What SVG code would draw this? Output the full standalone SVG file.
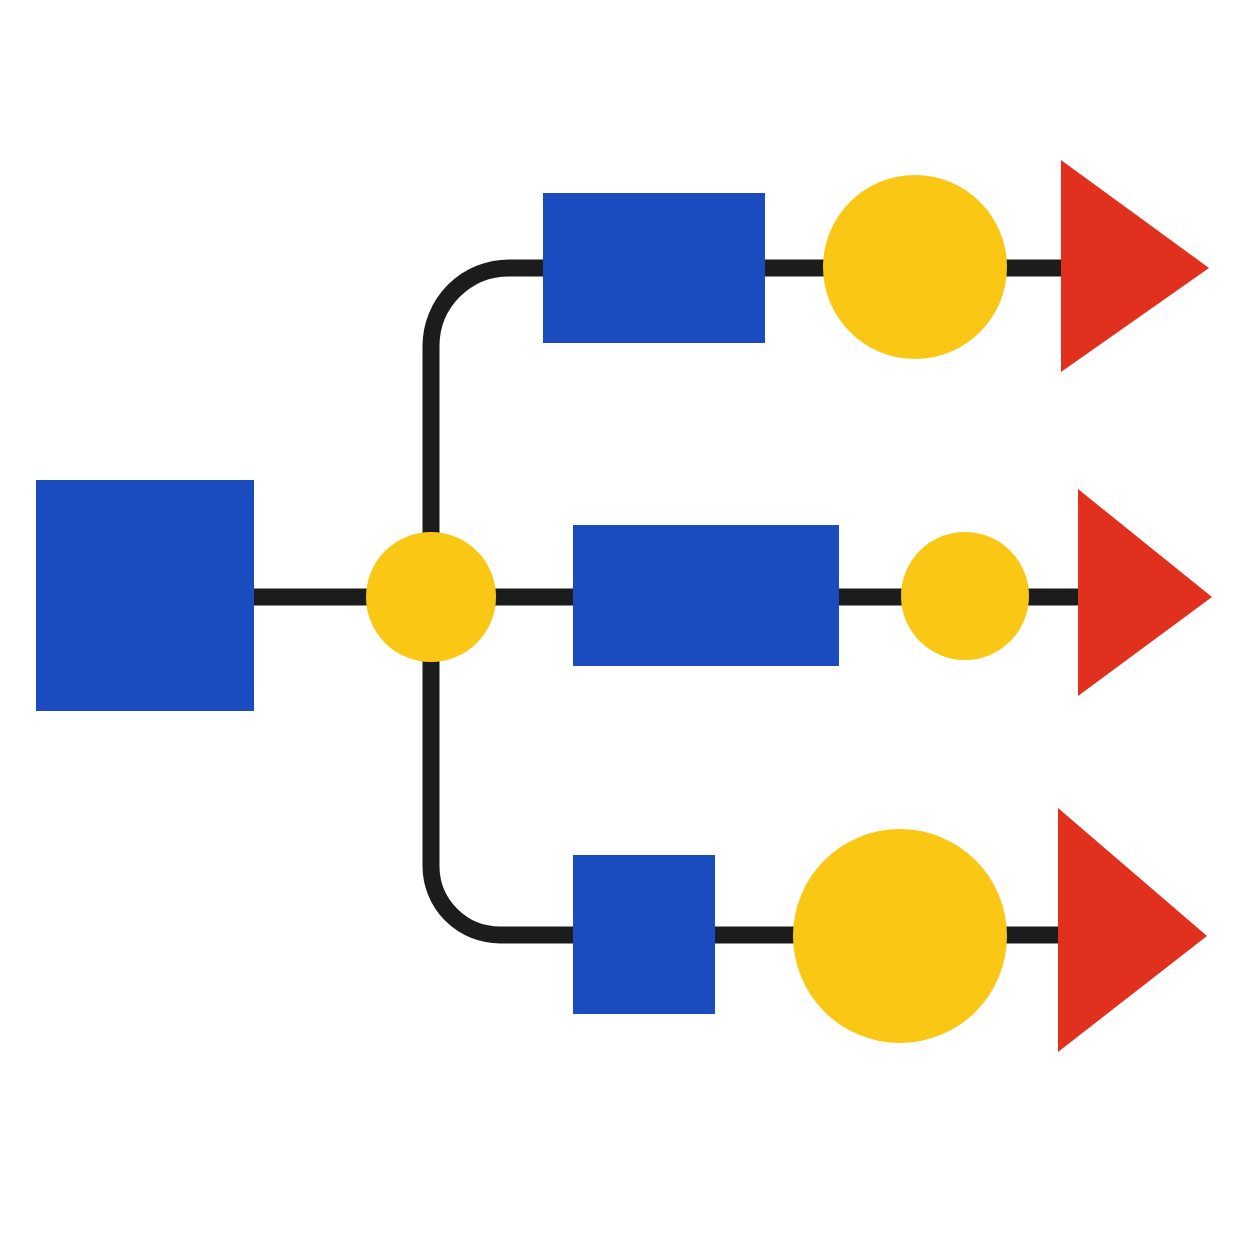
<svg xmlns="http://www.w3.org/2000/svg" width="1254" height="1254" viewBox="0 0 1254 1254">
<style>
.blue{fill:#1a4cc0}
.yellow{fill:#fac714}
.red{fill:#e2301f}
.wire{fill:none;stroke:#1c1c1c;stroke-width:17;stroke-linecap:butt}
</style>
<rect width="1254" height="1254" fill="#ffffff"/>
<g id="connectors">
<path class="wire" d="M254 597 H573"/>
<path class="wire" d="M431 597 V346 A78 78 0 0 1 509 268 H1062"/>
<path class="wire" d="M431 597 V866 A69 69 0 0 0 500 935 H1059"/>
<path class="wire" d="M839 597 H1079"/>
</g>
<g id="source"><rect class="blue" x="36" y="480" width="218" height="231"/></g>
<g id="hub"><circle class="yellow" cx="431" cy="597" r="65"/></g>
<g id="top-box"><rect class="blue" x="543" y="193" width="222" height="150"/></g>
<g id="top-circle"><circle class="yellow" cx="915" cy="267" r="92"/></g>
<g id="top-arrow"><polygon class="red" points="1061,160 1061,372 1209,268"/></g>
<g id="mid-box"><rect class="blue" x="573" y="525" width="266" height="141"/></g>
<g id="mid-circle"><circle class="yellow" cx="965" cy="596" r="64"/></g>
<g id="mid-arrow"><polygon class="red" points="1078,489 1078,696 1212,597"/></g>
<g id="bottom-box"><rect class="blue" x="573" y="855" width="142" height="159"/></g>
<g id="bottom-circle"><circle class="yellow" cx="900" cy="936" r="107"/></g>
<g id="bottom-arrow"><polygon class="red" points="1058,808 1058,1052 1207,936"/></g>
</svg>
